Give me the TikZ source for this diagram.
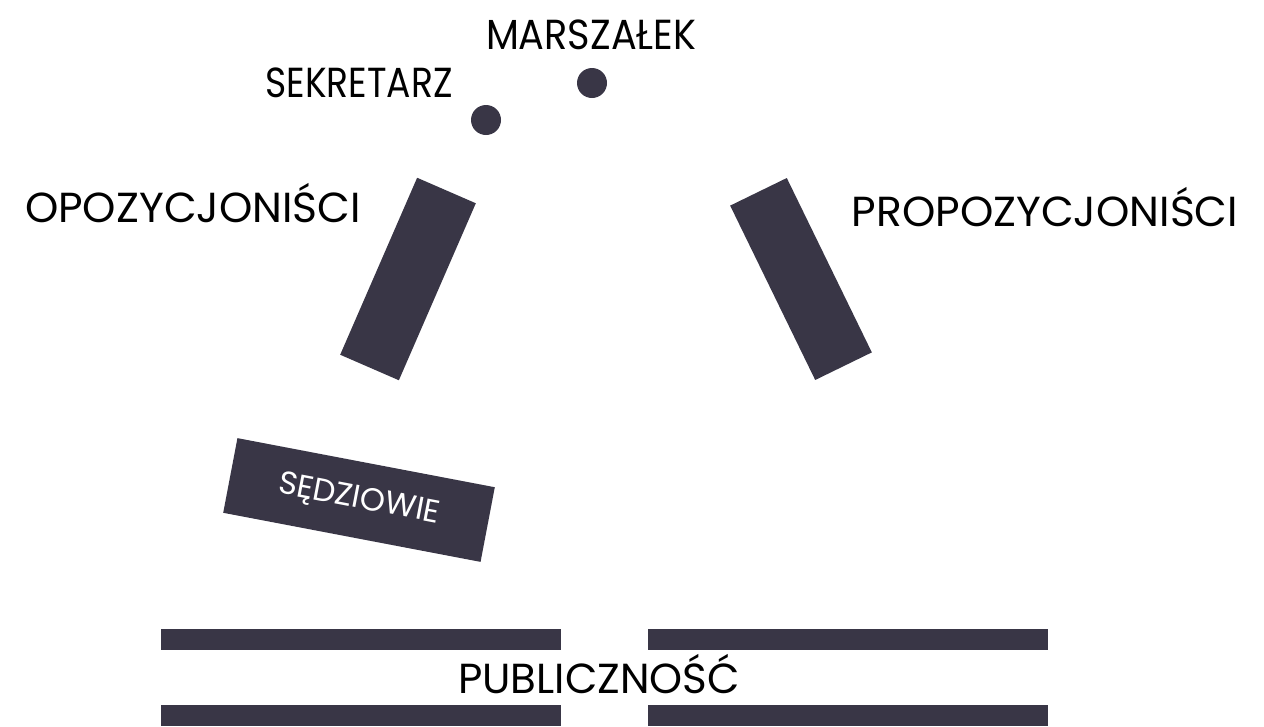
\documentclass[tikz,border=0pt]{standalone}
\usepackage{fontspec}
\setmainfont{Poppins}
\definecolor{hallgray}{RGB}{57,54,70}
\tikzset{
  bench/.style={rectangle,fill=hallgray,inner sep=0pt},
  seat/.style={circle,fill=hallgray,inner sep=0pt,minimum size=30pt},
  role/.style={inner sep=0pt,anchor=base,font=\fontsize{42}{42}\selectfont},
}

\begin{document}
\begin{tikzpicture}[x=1pt,y=-1pt]
\useasboundingbox (0,0) rectangle (1264,726);

% presidium
\node[seat] (sekr) at (486,120) {};
\node[seat] (marsz) at (592,83) {};
\node[role,xscale=.91] (marszlbl) at (591,49) {MARSZAŁEK};
\node[role,xscale=.86] (sekrlbl) at (359,97) {SEKRETARZ};

% benches of the two sides
\node[bench,minimum width=64pt,minimum height=193pt,rotate=-23.5] (opp) at (408,279) {};
\node[bench,minimum width=63pt,minimum height=194pt,rotate=26] (prop) at (801,279) {};
\node[role,xscale=1.01] (opplbl) at (193,222) {OPOZYCJONIŚCI};
\node[role,xscale=1.01] (proplbl) at (1045,226) {PROPOZYCJONIŚCI};

\node[bench,minimum width=262pt,minimum height=76pt,rotate=-10.8,
  text=white,font=\fontsize{32}{32}\selectfont] (sedz) at (359,500) {SĘDZIOWIE};

% audience rows
\foreach \x/\y/\name in {361/639.5/pa,848/639.5/pb,361/715.5/pc,848/715.5/pd} {
  \node[bench,minimum width=400pt,minimum height=21pt] (\name) at (\x,\y) {};
}
\node[role] (publbl) at (599,693) {PUBLICZNOŚĆ};

\end{tikzpicture}
\end{document}
